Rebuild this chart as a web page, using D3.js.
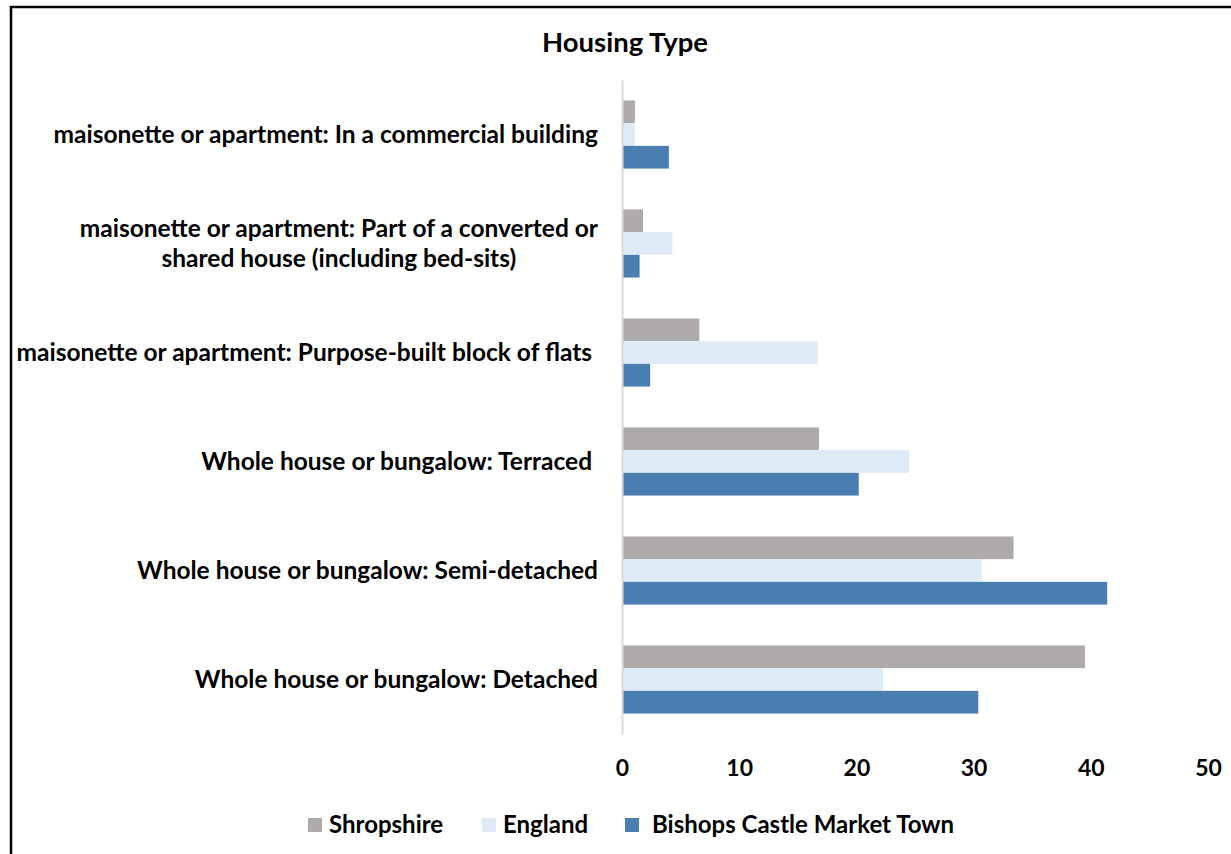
<!DOCTYPE html>
<html>
<head>
<meta charset="utf-8">
<script src="https://cdn.jsdelivr.net/npm/d3@7"></script>
<style>
  html, body { margin: 0; padding: 0; background: #fff; }
  svg { display: block; }
  text { font-family: Lato, "Open Sans", sans-serif; font-weight: bold; fill: #000; }
</style>
</head>
<body>
<svg id="chart" width="1231" height="854"></svg>
<script>
// ---- data ----
const categories = [
  ["maisonette or apartment: In a commercial building"],
  ["maisonette or apartment: Part of a converted or", "shared house (including bed-sits)"],
  ["maisonette or apartment: Purpose-built block of flats "],
  ["Whole house or bungalow: Terraced "],
  ["Whole house or bungalow: Semi-detached"],
  ["Whole house or bungalow: Detached"]
];
const seriesNames = ["Shropshire", "England", "Bishops Castle Market Town"];
const shropshire = [1.1, 1.8, 6.6, 16.8, 33.4, 39.5];
const england    = [1.1, 4.3, 16.7, 24.5, 30.7, 22.3];
const bishops    = [4.0, 1.5, 2.4, 20.2, 41.4, 30.4];
const xTicks = [0, 10, 20, 30, 40, 50];
const colors = ["#AEAAAA", "#DEEAF6", "#4A7EB0"];
const title = "Housing Type";

const seriesValues = [shropshire, england, bishops];

const svg = d3.select("#chart");

// outer frame (cropped on right and bottom)
svg.append("rect")
  .attr("x", 11).attr("y", 7)
  .attr("width", 1240).attr("height", 870)
  .attr("fill", "none").attr("stroke", "#000").attr("stroke-width", 2.5);

const catKeys = categories.map((c, i) => i);
const x = d3.scaleLinear().domain([0, 50]).range([622, 1208]);
const y = d3.scaleBand().domain(catKeys).range([80, 734]).paddingInner(0.375).paddingOuter(0.1875);
const ys = d3.scaleBand().domain(d3.range(seriesNames.length)).range([0, y.bandwidth()]);

// title
svg.append("text")
  .attr("x", 625).attr("y", 52)
  .attr("text-anchor", "middle")
  .style("font-size", "27.5px")
  .text(title);

// bars
const groups = svg.append("g").selectAll("g")
  .data(catKeys).join("g")
  .attr("transform", d => `translate(0,${y(d)})`);

groups.selectAll("rect")
  .data(ci => seriesValues.map((vals, si) => ({ si, v: vals[ci] })))
  .join("rect")
  .attr("x", x(0))
  .attr("y", d => ys(d.si))
  .attr("width", d => x(d.v) - x(0))
  .attr("height", ys.bandwidth())
  .attr("fill", d => colors[d.si]);

// vertical axis line
const yAxis = d3.axisLeft(y).tickSize(0).tickFormat("");
const yg = svg.append("g").attr("transform", `translate(${x(0)},0)`).call(yAxis);
yg.select(".domain").attr("stroke", "#D9D9D9").attr("stroke-width", 2);

// category labels
const labelRight = 598;
catKeys.forEach(ci => {
  const lines = categories[ci];
  const cy = y(ci) + y.bandwidth() / 2;
  const lh = 30;
  const g = svg.append("g");
  const texts = lines.map((line, li) =>
    g.append("text")
      .attr("y", cy + (li - (lines.length - 1) / 2) * lh)
      .attr("dy", "0.35em")
      .attr("text-anchor", "middle")
      .style("font-size", "24.5px")
      .style("white-space", "pre")
      .text(line));
  const widths = texts.map(t => t.node().getComputedTextLength());
  const maxW = d3.max(widths);
  texts.forEach(t => t.attr("x", labelRight - maxW / 2));
});

// x axis labels
const xAxis = d3.axisBottom(x).tickValues(xTicks).tickSize(0).tickPadding(0).tickFormat(d3.format("d"));
const xg = svg.append("g").attr("transform", "translate(0,768)").call(xAxis);
xg.select(".domain").remove();
xg.selectAll("text")
  .attr("dy", "0.35em")
  .attr("y", 0)
  .style("font-size", "23px")
  .style("font-family", "Lato, sans-serif")
  .style("font-weight", "bold")
  .attr("fill", "#000");

// legend
const legendItems = [
  { name: seriesNames[0], color: colors[0], x: 308, tx: 329 },
  { name: seriesNames[1], color: colors[1], x: 482, tx: 503 },
  { name: seriesNames[2], color: colors[2], x: 625, tx: 652 }
];
const lg = svg.append("g");
legendItems.forEach(it => {
  lg.append("rect").attr("x", it.x).attr("y", 818).attr("width", 14).attr("height", 14).attr("fill", it.color);
  lg.append("text").attr("x", it.tx).attr("y", 825).attr("dy", "0.35em")
    .style("font-size", "24px").text(it.name);
});
</script>
</body>
</html>
